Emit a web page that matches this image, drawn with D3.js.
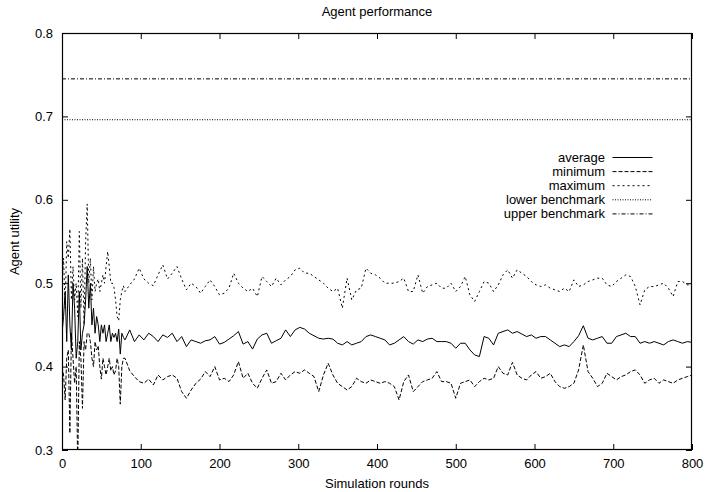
<!DOCTYPE html>
<html>
<head>
<meta charset="utf-8">
<script src="https://cdn.jsdelivr.net/npm/d3@7"></script>
<style>
  body { margin: 0; background: #fff; }
  svg { display: block; font-family: "Liberation Sans", Arial, Helvetica, sans-serif; }
  .tick line { stroke: #000; }
  .tick text { font-size: 13px; fill: #000; }
</style>
</head>
<body>
<script>
// sampled rounds (dense at start, every 6 rounds after that)
var rounds = [0, 2, 4, 6, 8, 10, 12, 14, 16, 18, 20, 22, 24, 26, 28, 30, 32, 34, 36, 38,
  40, 42, 44, 46, 48, 50, 52, 54, 56, 58, 60, 62, 64, 66, 68, 70, 72, 74, 76, 78,
  80, 86, 92, 98, 104, 110, 116, 122, 128, 134, 140, 146, 152, 158, 164, 170, 176,
  182, 188, 194, 200, 206, 212, 218, 224, 230, 236, 242, 248, 254, 260, 266, 272, 278,
  284, 290, 296, 302, 308, 314, 320, 326, 332, 338, 344, 350, 356, 362, 368,
  374, 380, 386, 392, 398, 404, 410, 416, 422, 428, 434, 440, 446, 452, 458, 464, 470,
  476, 482, 488, 494, 500, 506, 512, 518, 524, 530, 536, 542, 548, 554, 560, 566,
  572, 578, 584, 590, 596, 602, 608, 614, 620, 626, 632, 638, 644, 650, 656, 662, 668,
  674, 680, 686, 692, 698, 704, 710, 716, 722, 728, 734, 740, 746, 752, 758, 764, 770,
  776, 782, 788, 794, 800];

var average = [0.44, 0.46, 0.49, 0.43, 0.51, 0.45, 0.42, 0.50, 0.47, 0.41, 0.43, 0.49, 0.42, 0.44, 0.45, 0.48, 0.52, 0.47, 0.50, 0.45,
  0.47, 0.44, 0.46, 0.45, 0.43, 0.45, 0.44, 0.45, 0.43, 0.44, 0.45, 0.43, 0.44, 0.435, 0.44, 0.43, 0.445, 0.415, 0.44, 0.435,
  0.432, 0.444, 0.43, 0.438, 0.432, 0.44, 0.436, 0.43, 0.438, 0.435, 0.44, 0.43, 0.436, 0.424, 0.432, 0.43, 0.428,
  0.431, 0.432, 0.436, 0.427, 0.429, 0.433, 0.437, 0.442, 0.427, 0.43, 0.421, 0.433, 0.438, 0.44, 0.428, 0.431, 0.434,
  0.444, 0.436, 0.444, 0.447, 0.445, 0.44, 0.437, 0.434, 0.433, 0.434, 0.433, 0.428, 0.426, 0.43, 0.426,
  0.428, 0.43, 0.436, 0.438, 0.436, 0.434, 0.432, 0.426, 0.428, 0.432, 0.436, 0.43, 0.427, 0.432, 0.43, 0.433, 0.434,
  0.43, 0.43, 0.43, 0.428, 0.422, 0.428, 0.428, 0.42, 0.414, 0.412, 0.436, 0.434, 0.426, 0.44, 0.442, 0.444,
  0.44, 0.442, 0.439, 0.436, 0.438, 0.434, 0.436, 0.436, 0.432, 0.428, 0.424, 0.426, 0.424, 0.43, 0.437, 0.449, 0.434,
  0.432, 0.434, 0.436, 0.428, 0.428, 0.436, 0.438, 0.44, 0.436, 0.436, 0.428, 0.43, 0.428, 0.43, 0.428, 0.426, 0.43,
  0.432, 0.43, 0.428, 0.43, 0.429];

var minimum = [0.40, 0.39, 0.36, 0.41, 0.42, 0.32, 0.44, 0.41, 0.38, 0.40, 0.28, 0.43, 0.41, 0.35, 0.43, 0.42, 0.44, 0.44, 0.43, 0.41,
  0.40, 0.43, 0.42, 0.425, 0.40, 0.385, 0.41, 0.40, 0.39, 0.40, 0.41, 0.395, 0.40, 0.39, 0.395, 0.41, 0.40, 0.355, 0.40, 0.41,
  0.41, 0.395, 0.388, 0.382, 0.38, 0.385, 0.378, 0.39, 0.384, 0.388, 0.39, 0.386, 0.37, 0.362, 0.372, 0.38, 0.385,
  0.394, 0.388, 0.40, 0.384, 0.386, 0.382, 0.39, 0.406, 0.386, 0.392, 0.38, 0.374, 0.386, 0.396, 0.38, 0.382, 0.392,
  0.384, 0.39, 0.394, 0.392, 0.396, 0.392, 0.388, 0.37, 0.39, 0.404, 0.39, 0.38, 0.376, 0.372, 0.376,
  0.386, 0.382, 0.38, 0.384, 0.382, 0.38, 0.382, 0.38, 0.376, 0.36, 0.382, 0.39, 0.37, 0.376, 0.382, 0.384, 0.386,
  0.394, 0.382, 0.382, 0.38, 0.362, 0.38, 0.382, 0.384, 0.376, 0.382, 0.386, 0.384, 0.386, 0.40, 0.392, 0.39,
  0.405, 0.39, 0.386, 0.384, 0.39, 0.394, 0.386, 0.388, 0.392, 0.382, 0.376, 0.374, 0.376, 0.38, 0.396, 0.426, 0.394,
  0.386, 0.376, 0.38, 0.392, 0.388, 0.384, 0.388, 0.39, 0.394, 0.396, 0.39, 0.38, 0.384, 0.386, 0.38, 0.384, 0.382,
  0.38, 0.384, 0.386, 0.388, 0.39];

var maximum = [0.50, 0.53, 0.47, 0.55, 0.53, 0.565, 0.48, 0.52, 0.48, 0.50, 0.46, 0.562, 0.47, 0.53, 0.45, 0.55, 0.595, 0.50, 0.53, 0.48,
  0.52, 0.49, 0.50, 0.505, 0.49, 0.50, 0.51, 0.50, 0.52, 0.538, 0.52, 0.50, 0.50, 0.495, 0.48, 0.46, 0.455, 0.48, 0.49, 0.497,
  0.49, 0.498, 0.505, 0.518, 0.505, 0.50, 0.497, 0.51, 0.522, 0.505, 0.512, 0.52, 0.505, 0.492, 0.50, 0.496, 0.488,
  0.496, 0.504, 0.496, 0.486, 0.488, 0.494, 0.512, 0.50, 0.494, 0.49, 0.494, 0.484, 0.508, 0.502, 0.496, 0.506, 0.498,
  0.504, 0.508, 0.516, 0.518, 0.512, 0.512, 0.508, 0.504, 0.50, 0.494, 0.49, 0.494, 0.47, 0.506, 0.48,
  0.492, 0.494, 0.518, 0.512, 0.51, 0.506, 0.50, 0.50, 0.50, 0.502, 0.506, 0.49, 0.49, 0.51, 0.488, 0.496, 0.498,
  0.50, 0.494, 0.494, 0.50, 0.49, 0.496, 0.508, 0.486, 0.478, 0.49, 0.502, 0.50, 0.49, 0.498, 0.51, 0.516,
  0.506, 0.516, 0.512, 0.508, 0.502, 0.498, 0.496, 0.498, 0.494, 0.492, 0.49, 0.494, 0.49, 0.504, 0.496, 0.498, 0.502,
  0.504, 0.506, 0.506, 0.498, 0.496, 0.502, 0.506, 0.51, 0.508, 0.496, 0.474, 0.492, 0.496, 0.496, 0.498, 0.50, 0.494,
  0.484, 0.502, 0.502, 0.498, 0.498];

var lowerBenchmark = 0.696;
var upperBenchmark = 0.745;

var xTicks = [0, 100, 200, 300, 400, 500, 600, 700, 800];
var yTicks = [0.3, 0.4, 0.5, 0.6, 0.7, 0.8];

var width = 705, height = 492;
var margin = { top: 33, right: 13, bottom: 42, left: 62 };
var w = width - margin.left - margin.right;
var h = height - margin.top - margin.bottom;

var svg = d3.select('body').append('svg').attr('width', width).attr('height', height);

var x = d3.scaleLinear().domain([0, 800]).range([0, w]);
var y = d3.scaleLinear().domain([0.3, 0.8]).range([h, 0]);

var g = svg.append('g').attr('transform', 'translate(' + margin.left + ',' + margin.top + ')');

g.append('clipPath').attr('id', 'clip')
  .append('rect').attr('width', w).attr('height', h);

// axes, ticks point inward on all four sides
g.append('g').attr('transform', 'translate(0,' + h + ')')
  .call(d3.axisBottom(x).tickValues(xTicks).tickSize(-6).tickPadding(9).tickFormat(d3.format('d')));
g.append('g')
  .call(d3.axisTop(x).tickValues(xTicks).tickSize(-6).tickFormat(''));
g.append('g')
  .call(d3.axisLeft(y).tickValues(yTicks).tickSize(-6).tickPadding(9).tickFormat(d3.format('.1f')));
g.append('g').attr('transform', 'translate(' + w + ',0)')
  .call(d3.axisRight(y).tickValues(yTicks).tickSize(-6).tickFormat(''));
g.selectAll('.domain').remove();
g.selectAll('.tick text').attr('font-family', null).attr('font-size', null);

var series = [
  { name: 'average', values: average, dash: null },
  { name: 'minimum', values: minimum, dash: '4,2' },
  { name: 'maximum', values: maximum, dash: '2,3' }
];

var line = d3.line()
  .x(function (d, i) { return x(rounds[i]); })
  .y(function (d) { return y(d); });

var plot = g.append('g').attr('clip-path', 'url(#clip)');

plot.selectAll('path.series').data(series).enter().append('path')
  .attr('class', 'series')
  .attr('d', function (d) { return line(d.values); })
  .attr('fill', 'none')
  .attr('stroke', '#000')
  .attr('stroke-width', 1)
  .attr('stroke-dasharray', function (d) { return d.dash; });

var benchmarks = [
  { name: 'lower benchmark', value: lowerBenchmark, dash: '1,1.5' },
  { name: 'upper benchmark', value: upperBenchmark, dash: '4,2,1,2' }
];

plot.selectAll('line.bench').data(benchmarks).enter().append('line')
  .attr('class', 'bench')
  .attr('x1', 0).attr('x2', w)
  .attr('y1', function (d) { return y(d.value); })
  .attr('y2', function (d) { return y(d.value); })
  .attr('stroke', '#000')
  .attr('stroke-width', 1)
  .attr('stroke-dasharray', function (d) { return d.dash; });

// frame
g.append('rect')
  .attr('x', 0.5).attr('y', 0.5).attr('width', w - 1).attr('height', h - 1)
  .attr('fill', 'none').attr('stroke', '#000').attr('stroke-width', 1.2);

// legend
var legend = g.append('g').attr('transform', 'translate(' + (w - 80) + ',' + (157.5 - margin.top) + ')');
var items = legend.selectAll('g').data(series.concat(benchmarks)).enter().append('g')
  .attr('transform', function (d, i) { return 'translate(0,' + (i * 14.1) + ')'; });
items.append('text')
  .attr('x', -7).attr('dy', '0.35em')
  .attr('text-anchor', 'end')
  .attr('font-size', 13)
  .text(function (d) { return d.name; });
items.append('line')
  .attr('x1', 0.5).attr('x2', 40.5)
  .attr('stroke', '#000').attr('stroke-width', 1)
  .attr('stroke-dasharray', function (d) { return d.dash; });

// titles
svg.append('text')
  .attr('x', margin.left + w / 2).attr('y', 16)
  .attr('text-anchor', 'middle').attr('font-size', 13)
  .text('Agent performance');
svg.append('text')
  .attr('x', margin.left + w / 2).attr('y', 488)
  .attr('text-anchor', 'middle').attr('font-size', 13)
  .text('Simulation rounds');
svg.append('text')
  .attr('transform', 'translate(19,' + (margin.top + h / 2) + ') rotate(-90)')
  .attr('text-anchor', 'middle').attr('font-size', 13)
  .text('Agent utility');
</script>
</body>
</html>
